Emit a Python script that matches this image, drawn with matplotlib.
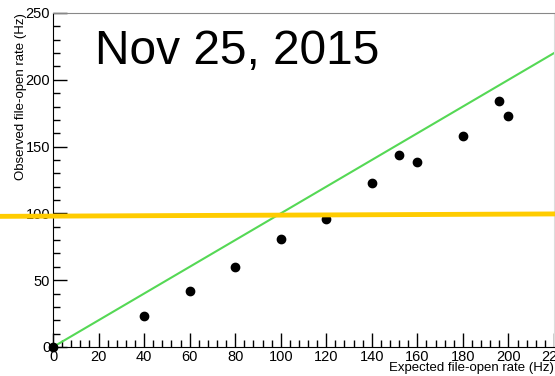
import matplotlib.pyplot as plt
from matplotlib.ticker import MultipleLocator

plt.rcParams['font.family'] = ['Liberation Sans', 'DejaVu Sans']

# measured points
expected = [0, 40, 60, 80, 100, 120, 140, 152, 160, 180, 196, 200]
observed = [0, 23.4, 42, 60, 80.5, 96, 123, 144, 138.5, 158, 184.5, 173]

# ideal y = x
ideal_x = [0, 220]
ideal_y = [0, 220]

# hand-drawn yellow line
yellow_x = [-23, 220]
yellow_y = [97.8, 99.6]

fig = plt.figure(figsize=(5.55, 3.76), dpi=100)
ax = fig.add_axes([53 / 555, 29 / 376, 501 / 555, 334 / 376])

ax.plot(ideal_x, ideal_y, color='#55d855', lw=1.5)
ax.plot(expected, observed, 'o', color='black', markersize=6, clip_on=False, zorder=3)
ax.plot(yellow_x, yellow_y, color='#ffcc00', lw=3.5, clip_on=False, zorder=4)

ax.set_xlim(0, 220)
ax.set_ylim(0, 250)
ax.xaxis.set_major_locator(MultipleLocator(20))
ax.xaxis.set_minor_locator(MultipleLocator(4))
ax.yaxis.set_major_locator(MultipleLocator(50))
ax.yaxis.set_minor_locator(MultipleLocator(10))
ax.tick_params(which='both', direction='in', top=False, right=False, labelsize=10.5, width=1)
ax.tick_params(which='major', length=10)
ax.tick_params(which='minor', length=5)
ax.tick_params(axis='x', pad=2)
ax.tick_params(axis='y', pad=2)

for s in ['top', 'right']:
    ax.spines[s].set_color('#888888')
ax.spines['right'].set_color('#dddddd')

ax.set_xlabel('Expected file-open rate (Hz)', fontsize=9.5, loc='right', labelpad=-1)
ax.set_ylabel('Observed file-open rate (Hz)', fontsize=9.5, loc='top', labelpad=-1)

fig.text(95 / 555, 1 - 64 / 376, 'Nov 25, 2015', fontsize=34.5, ha='left', va='baseline')

fig.savefig('out.png', dpi=100)
